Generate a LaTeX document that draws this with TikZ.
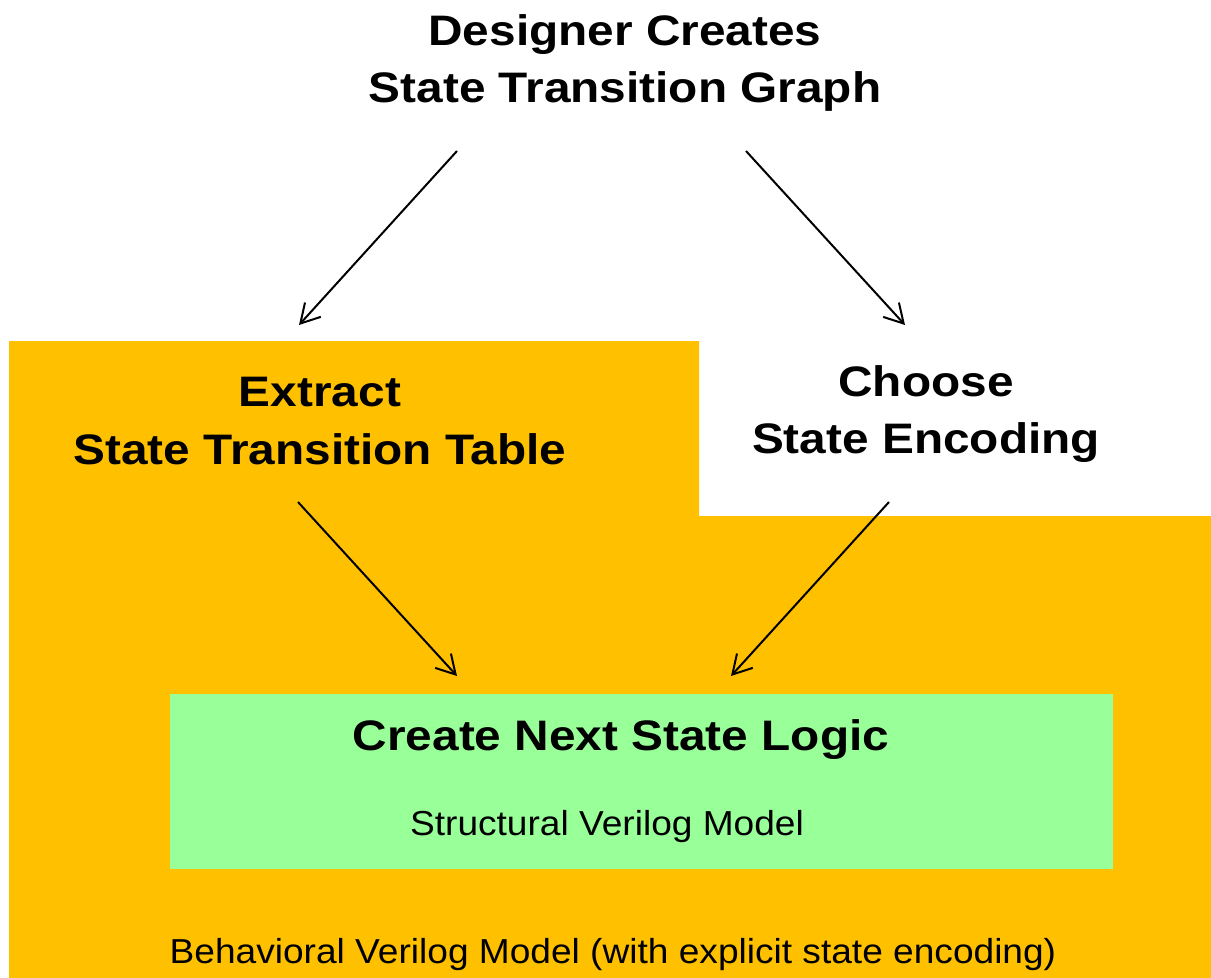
\documentclass[tikz,border=0pt]{standalone}
\usepackage{fontspec}
\setmainfont{Liberation Sans}
\newfontfamily\headfont[FakeStretch=1.12]{Liberation Sans}
\newfontfamily\notefont[FakeStretch=1.07]{Liberation Sans}
\usetikzlibrary{arrows.meta}
\definecolor{regionorange}{HTML}{FFC000}
\definecolor{logicgreen}{HTML}{99FF99}
\begin{document}
\begin{tikzpicture}[x=0.75pt,y=-0.75pt,
  title/.style={font=\headfont\fontsize{32}{43}\selectfont\bfseries, align=center, inner sep=0pt},
  caption/.style={font=\notefont\fontsize{26}{32}\selectfont, inner sep=0pt},
  flow/.style={draw, line width=1.5pt, -{Straight Barb[length=14pt,width=16pt,line width=1.5pt]}}]
\useasboundingbox (0,0) rectangle (1211,978);
% behavioural model region (stepped outline)
\fill[regionorange] (9,341) -- (699,341) -- (699,516) -- (1211,516) -- (1211,978) -- (9,978) -- cycle;
% structural model region
\fill[logicgreen] (170,694) rectangle (1113,869);

\node[title] (graph) at (625,63) {Designer Creates\\State Transition Graph};
\node[title] (table) at (320,421) {Extract\\State Transition Table};
\node[title] (enc) at (926,414) {Choose\\State Encoding};
\node[title] (logic) at (621,740) {Create Next State Logic};
\node[caption] (struct) at (607,827) {Structural Verilog Model};
\node[caption] (behav) at (613,955) {Behavioral Verilog Model (with explicit state encoding)};

\coordinate (g1) at (457,151);
\coordinate (g2) at (746,151);
\coordinate (t1) at (299,325);
\coordinate (e1) at (905,325);
\coordinate (t2) at (298,502);
\coordinate (e2) at (889,502);
\coordinate (l1) at (457,676);
\coordinate (l2) at (731,676);
\draw[flow] (g1) -- (t1);
\draw[flow] (g2) -- (e1);
\draw[flow] (t2) -- (l1);
\draw[flow] (e2) -- (l2);
\end{tikzpicture}
\end{document}
